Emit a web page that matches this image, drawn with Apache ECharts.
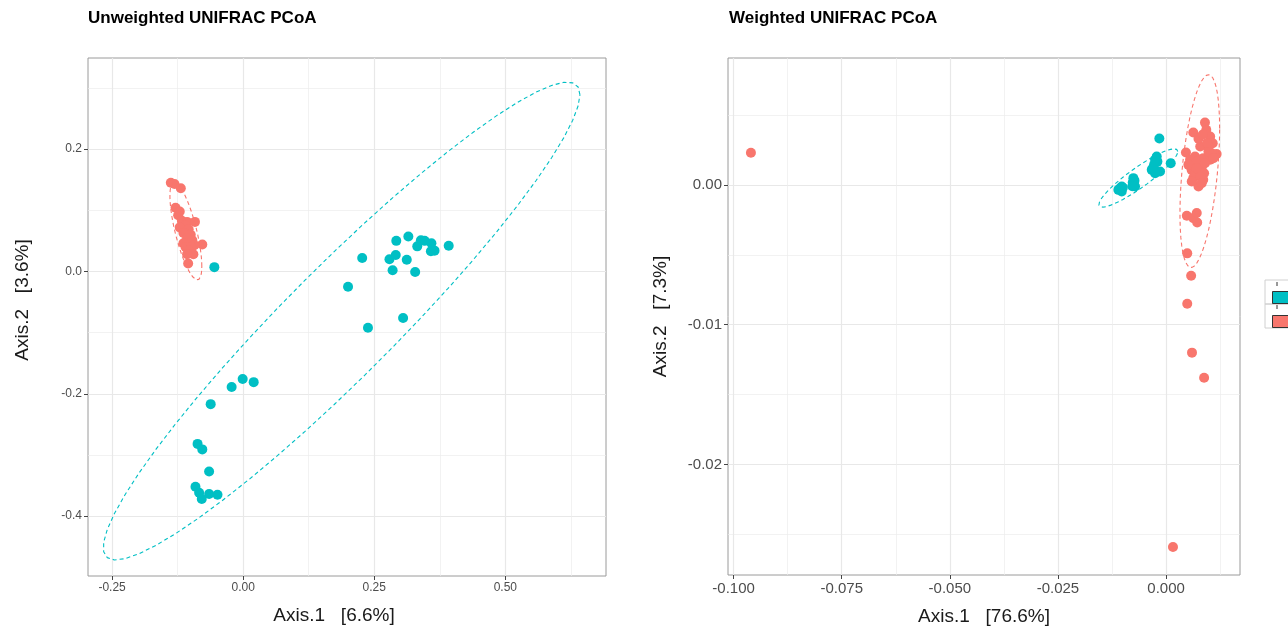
<!DOCTYPE html>
<html>
<head>
<meta charset="utf-8">
<script src="https://cdn.jsdelivr.net/npm/echarts@6.0.0/dist/echarts.min.js"></script>
<style>
  html, body { margin: 0; padding: 0; background: #fff; }
  #chart { width: 1288px; height: 629px; }
</style>
</head>
<body>
<div id="chart"></div>
<script>
// unweighted unifrac, [axis1, axis2]
const uwTeal = [
  [-0.055, 0.007], [0.227, 0.022], [0.200, -0.025], [0.292, 0.050], [0.315, 0.057],
  [0.339, 0.051], [0.346, 0.050], [0.359, 0.046], [0.332, 0.041], [0.365, 0.034],
  [0.358, 0.033], [0.392, 0.042], [0.279, 0.020], [0.291, 0.027], [0.312, 0.019],
  [0.285, 0.002], [0.328, -0.001], [0.305, -0.076], [0.238, -0.092], [-0.001, -0.176],
  [-0.022, -0.189], [0.020, -0.181], [-0.062, -0.217], [-0.087, -0.282], [-0.078, -0.291],
  [-0.065, -0.327], [-0.091, -0.352], [-0.084, -0.362], [-0.079, -0.372], [-0.065, -0.364],
  [-0.049, -0.365]
]
const uwSalmon = [
  [-0.138, 0.145], [-0.131, 0.143], [-0.119, 0.136], [-0.129, 0.104], [-0.121, 0.098],
  [-0.124, 0.092], [-0.117, 0.083], [-0.107, 0.081], [-0.092, 0.081], [-0.110, 0.075],
  [-0.121, 0.072], [-0.104, 0.069], [-0.114, 0.063], [-0.100, 0.060], [-0.107, 0.054],
  [-0.097, 0.051], [-0.114, 0.046], [-0.078, 0.044], [-0.093, 0.043], [-0.110, 0.040],
  [-0.099, 0.040], [-0.104, 0.034], [-0.095, 0.028], [-0.107, 0.028], [-0.105, 0.013]
]
// weighted unifrac
const wTeal = [
  [-0.00155, 0.00331], [-0.00216, 0.00202], [-0.0020, 0.00166], [-0.00278, 0.00143],
  [0.00108, 0.00155], [-0.00331, 0.00107], [-0.00139, 0.00095], [-0.00254, 0.00083],
  [-0.00756, 0.00048], [-0.0077, 0.00017], [-0.00717, -0.00012], [-0.01064, -0.00024],
  [-0.01103, -0.00036], [-0.01025, -0.00048], [-0.00254, 0.00179], [-0.00308, 0.00119],
  [-0.01025, -0.00012], [-0.0074, 0.0], [-0.0107, -0.0003], [-0.0100, -0.0002],
  [-0.0073, 0.0003], [-0.0078, -0.0001]
]
const wSalmon = [
  [-0.0960, 0.00229], [0.0016, -0.0259], [0.0088, -0.0138], [0.0060, -0.0120],
  [0.0049, -0.0085], [0.0058, -0.0065], [0.0049, -0.0049], [0.0090, 0.00445],
  [0.0063, 0.00374], [0.0093, 0.00393], [0.0102, 0.00345], [0.0108, 0.00298],
  [0.0079, 0.00274], [0.0098, 0.00274], [0.0117, 0.00221], [0.0046, 0.00231],
  [0.0067, 0.00202], [0.0086, 0.00191], [0.0102, 0.00179], [0.0063, 0.00143],
  [0.0083, 0.00131], [0.0059, 0.00107], [0.0075, 0.00095], [0.0088, 0.00083],
  [0.0063, 0.00048], [0.0086, 0.00036], [0.0075, -0.00012], [0.0048, -0.00221],
  [0.0063, -0.00238], [0.0072, -0.00269], [0.0071, -0.00202], [0.00555, 0.00179],
  [0.0071, 0.00167], [0.00516, 0.00143], [0.0067, 0.00071], [0.00786, 0.0006],
  [0.00594, 0.00024], [0.00825, 0.00012], [0.0071, 0.00119], [0.0090, 0.00155],
  [0.01057, 0.00226], [0.00979, 0.00238], [0.01095, 0.00191], [0.0075, 0.0033],
  [0.0085, 0.0036], [0.0095, 0.0030]
]

const uwXTicks = [-0.25, 0, 0.25, 0.5]
const uwYTicks = [-0.4, -0.2, 0, 0.2]
const wXTicks = [-0.1, -0.075, -0.05, -0.025, 0]
const wYTicks = [-0.02, -0.01, 0]

const TEAL = '#00BFC4'
const SALMON = '#F8766D'
const FONT = '"Liberation Sans", Arial, sans-serif'

// MASS::cov.trob, as used by stat_ellipse(type = "t")
function covTrob(pts, nu = 5) {
  const n = pts.length
  let w = pts.map(() => 1)
  let loc = [0, 0]
  pts.forEach(p => { loc[0] += p[0] / n; loc[1] += p[1] / n })
  let X = []
  for (let it = 0; it < 100; it++) {
    const w0 = w
    X = pts.map(p => [p[0] - loc[0], p[1] - loc[1]])
    const sw = w.reduce((s, v) => s + v, 0)
    let a = 0, b = 0, c = 0
    X.forEach((d, i) => {
      a += w[i] * d[0] * d[0]; b += w[i] * d[0] * d[1]; c += w[i] * d[1] * d[1]
    })
    a /= sw; b /= sw; c /= sw
    const det = a * c - b * b
    w = X.map(d => (nu + 2) / (nu + (c * d[0] * d[0] - 2 * b * d[0] * d[1] + a * d[1] * d[1]) / det))
    const sw2 = w.reduce((s, v) => s + v, 0)
    loc = [0, 0]
    pts.forEach((p, i) => { loc[0] += w[i] * p[0] / sw2; loc[1] += w[i] * p[1] / sw2 })
    if (w.every((v, i) => Math.abs(v - w0[i]) < 1e-4)) break
  }
  let a = 0, b = 0, c = 0
  X.forEach((d, i) => {
    a += w[i] * d[0] * d[0]; b += w[i] * d[0] * d[1]; c += w[i] * d[1] * d[1]
  })
  return { loc, cov: [a / n, b / n, c / n] }
}

function ellipse(pts, level = 0.95, segments = 51) {
  const { loc, cov } = covTrob(pts)
  const dfd = pts.length - 1
  // qf(level, 2, dfd)
  const q = dfd / 2 * (Math.pow(1 - level, -2 / dfd) - 1)
  const r = Math.sqrt(2 * q)
  const r11 = Math.sqrt(cov[0])
  const r12 = cov[1] / r11
  const r22 = Math.sqrt(cov[2] - r12 * r12)
  const out = []
  for (let i = 0; i <= segments; i++) {
    const t = i * 2 * Math.PI / segments
    const u = Math.cos(t), v = Math.sin(t)
    out.push([loc[0] + r * u * r11, loc[1] + r * (u * r12 + v * r22)])
  }
  return out
}

function minorOf(ticks, min, max) {
  const step = ticks[1] - ticks[0]
  const out = []
  for (let v = ticks[0] - step / 2; v <= max; v += step) {
    if (v >= min) out.push(+v.toFixed(6))
  }
  return out
}

function fmt(d) {
  return v => (Math.abs(v) < 1e-12 ? 0 : v).toFixed(d)
}

function axes(gi, min, max, ticks, digits, fontSize, name, nameGap, namePad, isY) {
  const minor = {
    gridIndex: gi, type: 'value', min, max,
    position: isY ? 'right' : 'top',
    axisLine: { show: false, onZero: false }, axisLabel: { show: false },
    axisTick: { show: false, customValues: minorOf(ticks, min, max) },
    splitLine: { show: true, lineStyle: { color: '#ededed', width: 0.7 } }
  }
  const major = {
    gridIndex: gi, type: 'value', min, max,
    position: isY ? 'left' : 'bottom',
    name, nameLocation: 'middle', nameGap,
    nameRotate: isY ? 90 : 0,
    nameTextStyle: { fontFamily: FONT, fontSize: 19, color: '#1a1a1a', padding: namePad },
    axisLine: { show: false, onZero: false },
    axisTick: { show: true, length: 4, customValues: ticks, lineStyle: { color: '#444' } },
    axisLabel: {
      customValues: ticks, formatter: fmt(digits), fontFamily: FONT,
      fontSize, color: '#4d4d4d', margin: 6
    },
    splitLine: { show: true, lineStyle: { color: '#e8e8e8', width: 1.2 } }
  }
  return [minor, major]
}

const uwX = axes(0, -0.296, 0.692, uwXTicks, 2, 12, 'Axis.1   [6.6%]', 30, [0, 26, 0, 0], false)
const uwY = axes(0, -0.498, 0.349, uwYTicks, 1, 12, 'Axis.2   [3.6%]', 56, [0, 0, 0, 34], true)
const wX = axes(1, -0.1013, 0.0171, wXTicks, 3, 15, 'Axis.1   [76.6%]', 32, 0, false)
const wY = axes(1, -0.0279, 0.00907, wYTicks, 2, 15, 'Axis.2   [7.3%]', 58, 0, true)

function scatter(name, data, xi, yi, color) {
  return {
    name, type: 'scatter', xAxisIndex: xi, yAxisIndex: yi, data,
    symbolSize: 10, itemStyle: { color, opacity: 1 }, z: 2
  }
}
function ring(data, xi, yi, color) {
  return {
    name: 'ellipse', type: 'line', xAxisIndex: xi, yAxisIndex: yi,
    data: ellipse(data), showSymbol: false, symbol: 'none', silent: true,
    lineStyle: { color, width: 1.1, type: [4, 3] }, z: 3, clip: true
  }
}

const chart = echarts.init(document.getElementById('chart'))
chart.setOption({
  animation: false,
  backgroundColor: '#fff',
  title: [
    { text: 'Unweighted UNIFRAC PCoA', left: 88, top: 10, padding: 0,
      textStyle: { fontFamily: FONT, fontSize: 17, fontWeight: 'bold', color: '#000' } },
    { text: 'Weighted UNIFRAC PCoA', left: 729, top: 10, padding: 0,
      textStyle: { fontFamily: FONT, fontSize: 17, fontWeight: 'bold', color: '#000' } }
  ],
  grid: [
    { left: 88, top: 58, width: 518, height: 518, show: true, borderColor: '#9a9a9a', borderWidth: 1,
      backgroundColor: '#fff', outerBoundsMode: 'none' },
    { left: 728, top: 58, width: 512, height: 517, show: true, borderColor: '#9a9a9a', borderWidth: 1,
      backgroundColor: '#fff', outerBoundsMode: 'none' }
  ],
  xAxis: [...uwX, ...wX],
  yAxis: [...uwY, ...wY],
  legend: {
    data: ['teal', 'salmon'], orient: 'vertical', left: 1267, top: 286,
    itemWidth: 20, itemHeight: 12, itemGap: 11, icon: 'rect',
    itemStyle: { borderColor: '#333', borderWidth: 1 },
    formatter: () => '', selectedMode: false
  },
  graphic: [
    { type: 'rect', shape: { x: 1265, y: 280, width: 40, height: 24 }, style: { fill: 'none', stroke: '#d0d0d0', lineWidth: 1 }, z: -1 },
    { type: 'rect', shape: { x: 1265, y: 304, width: 40, height: 24 }, style: { fill: 'none', stroke: '#d0d0d0', lineWidth: 1 }, z: -1 },
    { type: 'line', shape: { x1: 1277, y1: 282, x2: 1277, y2: 286 }, style: { stroke: '#333', lineWidth: 1 } },
    { type: 'line', shape: { x1: 1277, y1: 298, x2: 1277, y2: 302 }, style: { stroke: '#333', lineWidth: 1 } },
    { type: 'line', shape: { x1: 1277, y1: 305, x2: 1277, y2: 309 }, style: { stroke: '#333', lineWidth: 1 } },
    { type: 'line', shape: { x1: 1277, y1: 321, x2: 1277, y2: 326 }, style: { stroke: '#333', lineWidth: 1 } }
  ],
  series: [
    scatter('salmon', uwSalmon, 1, 1, SALMON),
    scatter('teal', uwTeal, 1, 1, TEAL),
    ring(uwSalmon, 1, 1, SALMON),
    ring(uwTeal, 1, 1, TEAL),
    scatter('salmon', wSalmon, 3, 3, SALMON),
    scatter('teal', wTeal, 3, 3, TEAL),
    ring(wSalmon, 3, 3, SALMON),
    ring(wTeal, 3, 3, TEAL)
  ]
})
</script>
</body>
</html>
